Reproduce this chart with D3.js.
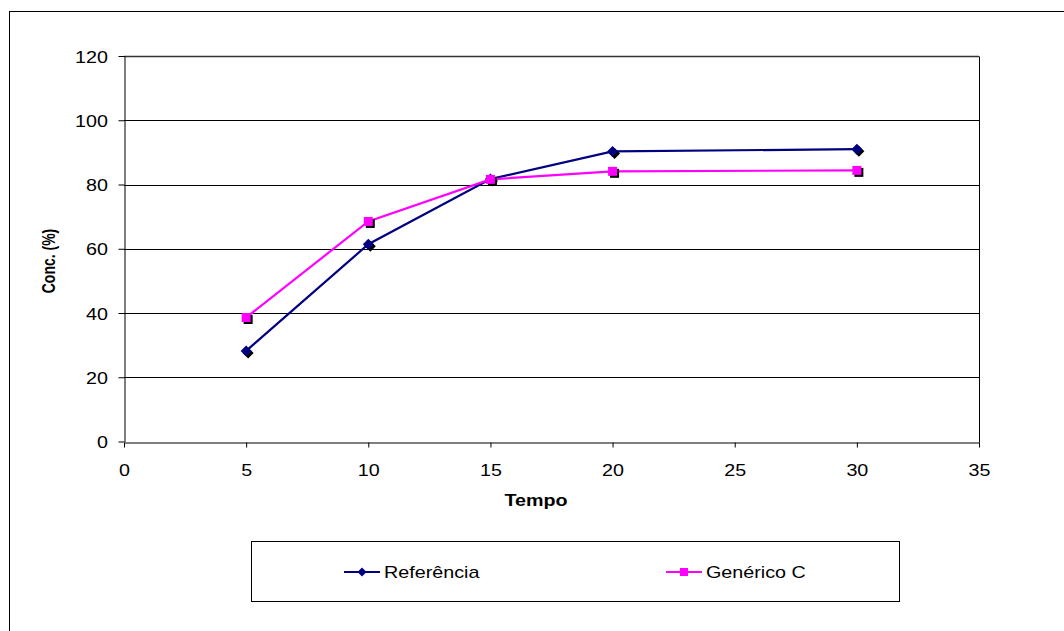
<!DOCTYPE html>
<html>
<head>
<meta charset="utf-8">
<script src="https://cdn.jsdelivr.net/npm/d3@7"></script>
<style>
  body { margin: 0; background: #fff; }
  svg { display: block; font-family: "Liberation Sans", Arial, sans-serif; }
</style>
</head>
<body>
<svg id="chart" width="1064" height="631"></svg>
<script>
// data
const tempo = [5, 10, 15, 20, 30]
const referencia = [28.2, 61.4, 81.7, 90.3, 91.0]
const generico = [38.6, 68.5, 81.6, 84.1, 84.4]
const seriesNames = ["Referência", "Genérico C"]
const xTicks = [0, 5, 10, 15, 20, 25, 30, 35]
const yTicks = [0, 20, 40, 60, 80, 100, 120]

const FONT = 17
const STRETCH = 1.16 // reference text is a bit wider than normal Arial

const svg = d3.select("#chart")

// outer chart frame (runs off the right and bottom edges)
svg.append("rect")
    .attr("x", 9.5).attr("y", 11.5)
    .attr("width", 1100).attr("height", 700)
    .attr("fill", "none").attr("stroke", "#000")

const x = d3.scaleLinear().domain([0, 35]).range([124, 979])
const y = d3.scaleLinear().domain([0, 120]).range([441.5, 56])

// gridlines
svg.append("g")
    .selectAll("line")
    .data(yTicks.filter(d => d > 0))
    .join("line")
    .attr("x1", x(0)).attr("x2", x(35))
    .attr("y1", d => Math.round(y(d)) + 0.5)
    .attr("y2", d => Math.round(y(d)) + 0.5)
    .attr("stroke", d => d === 120 ? "#333" : "#000")
    .attr("stroke-width", d => d === 120 ? 1.5 : 1)

// right border of plot area
svg.append("line")
    .attr("x1", x(35) + 0.5).attr("x2", x(35) + 0.5)
    .attr("y1", Math.round(y(120)) + 0.5).attr("y2", Math.round(y(0)) + 0.5)
    .attr("stroke", "#000")

const xAxis = svg.append("g")
    .attr("transform", `translate(0,${Math.round(y(0)) + 0.5})`)
    .call(d3.axisBottom(x).tickValues(xTicks).tickSize(5).tickSizeOuter(0))
xAxis.select(".domain").attr("stroke", "#000")
xAxis.selectAll(".tick line").attr("stroke", "#000")
xAxis.selectAll("text")
    .attr("font-size", FONT).attr("font-family", "Liberation Sans, Arial, sans-serif").attr("fill", "#000")
    .attr("y", 0).attr("dy", null)
    .attr("transform", `translate(0,33.5) scale(${STRETCH},1)`)

const yAxis = svg.append("g")
    .attr("transform", `translate(${Math.round(x(0)) + 0.5},0)`)
    .call(d3.axisLeft(y).tickValues(yTicks).tickSize(6).tickSizeOuter(0))
yAxis.select(".domain").attr("stroke", "#000")
yAxis.selectAll(".tick line").attr("stroke", "#000")
yAxis.selectAll("text")
    .attr("font-size", FONT).attr("font-family", "Liberation Sans, Arial, sans-serif").attr("fill", "#000")
    .attr("x", 0).attr("dy", null).attr("y", 6)
    .attr("transform", `translate(-16.5,0) scale(${STRETCH},1)`)

// axis titles
svg.append("text")
    .attr("transform", `translate(536,506) scale(${STRETCH},1)`)
    .attr("text-anchor", "middle")
    .attr("font-size", FONT).attr("font-weight", "bold")
    .text("Tempo")

svg.append("text")
    .attr("transform", `translate(55,261) rotate(-90) scale(1,1.3)`)
    .attr("text-anchor", "middle")
    .attr("font-size", 14).attr("font-weight", "bold")
    .text("Conc. (%)")

const series = [
    { name: seriesNames[0], values: referencia, color: "#000080", shape: "diamond" },
    { name: seriesNames[1], values: generico, color: "#ff00ff", shape: "square" }
]

const line = d3.line()
    .x(d => x(d[0]))
    .y(d => y(d[1]))

const markerPath = s => s.shape === "diamond"
    ? "M0,-5.5L5.5,0L0,5.5L-5.5,0Z"
    : "M-4.5,-4.5H4.5V4.5H-4.5Z"

series.forEach(s => {
    const pts = tempo.map((t, i) => [t, s.values[i]])
    svg.append("path")
        .datum(pts)
        .attr("fill", "none")
        .attr("stroke", s.color)
        .attr("stroke-width", 2.2)
        .attr("d", line)
    const g = svg.append("g")
    // shadow
    g.selectAll("path.shadow")
        .data(pts)
        .join("path")
        .attr("class", "shadow")
        .attr("transform", d => `translate(${x(d[0]) + 2},${y(d[1]) + 2})`)
        .attr("d", markerPath(s))
        .attr("fill", "#000")
    g.selectAll("path.mark")
        .data(pts)
        .join("path")
        .attr("class", "mark")
        .attr("transform", d => `translate(${x(d[0])},${y(d[1])})`)
        .attr("d", markerPath(s))
        .attr("fill", s.color)
})

// legend
svg.append("rect")
    .attr("x", 251.5).attr("y", 541.5)
    .attr("width", 648).attr("height", 60)
    .attr("fill", "#fff").attr("stroke", "#000")

const legendX = [344, 666]
series.forEach((s, i) => {
    const lx = legendX[i]
    const g = svg.append("g").attr("transform", `translate(${lx},572)`)
    g.append("line")
        .attr("x1", 0).attr("x2", 36)
        .attr("stroke", s.color).attr("stroke-width", 2.2)
    g.append("path")
        .attr("transform", "translate(18,0)")
        .attr("d", s.shape === "diamond" ? "M0,-4.5L4.5,0L0,4.5L-4.5,0Z" : "M-4,-4H4V4H-4Z")
        .attr("fill", s.color)
    g.append("text")
        .attr("transform", `translate(40,6) scale(${STRETCH},1)`)
        .attr("font-size", FONT)
        .text(s.name)
})
</script>
</body>
</html>
